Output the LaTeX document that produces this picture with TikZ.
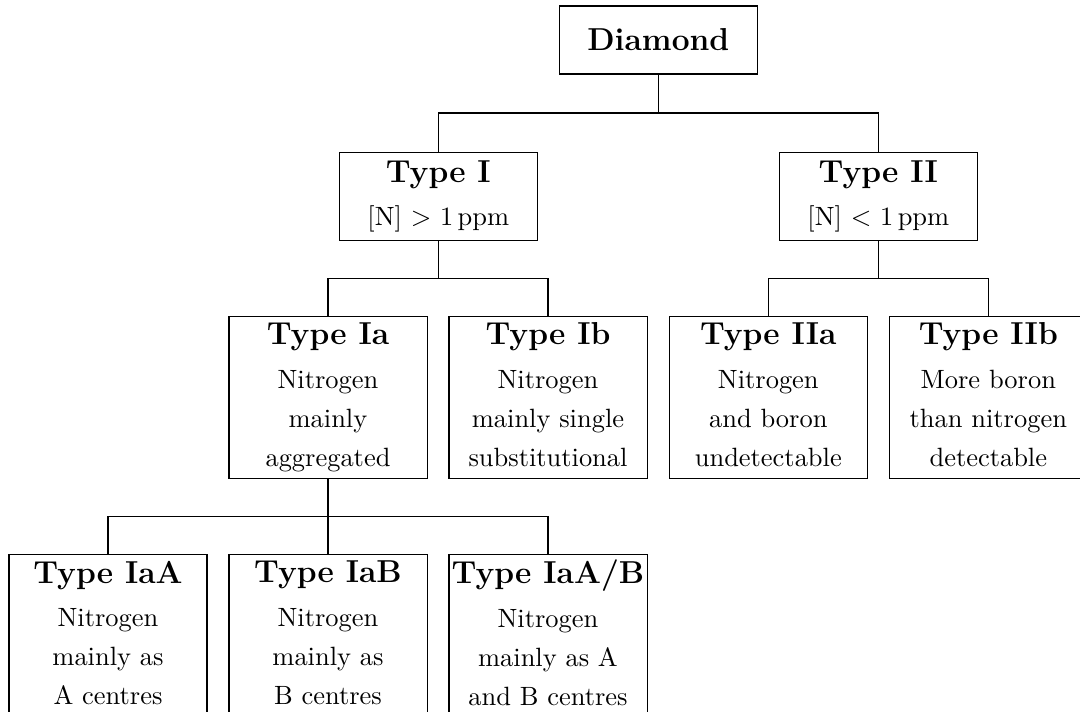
\documentclass[tikz,border=0pt]{standalone}
\begin{document}
\begin{tikzpicture}[x=0.3782pt,y=-0.3782pt,
  box/.style={draw, line width=0.4pt, align=center, inner sep=0pt,
    minimum width=74.9pt, font=\fontsize{10}{14.75}\selectfont},
  top/.style={box, minimum height=25.7pt},
  mid/.style={box, minimum height=33.4pt},
  leaf/.style={box, minimum height=61.6pt},
  edge/.style={line width=0.4pt}]
\useasboundingbox (0,0) rectangle (1080,711);
\clip (0,0) rectangle (1080,711);
\node[top] (dia) at (658.3,40) {\large\bfseries Diamond};
\node[mid] (t1) at (438.3,196.5) {{\large\bfseries Type I}\\[1.2pt] [N] $>$ 1\,ppm};
\node[mid] (t2) at (878.3,196.5) {{\large\bfseries Type II}\\[1.2pt] [N] $<$ 1\,ppm};
\node[leaf] (ia) at (328,397.5) {{\large\bfseries Type Ia}\\[1.8pt] Nitrogen\\ mainly\\ aggregated};
\node[leaf] (ib) at (548,397.5) {{\large\bfseries Type Ib}\\[1.8pt] Nitrogen\\ mainly single\\ substitutional\vphantom{g}};
\node[leaf] (iia) at (768.3,397.5) {{\large\bfseries Type IIa}\\[1.8pt] Nitrogen\\ and boron\\ undetectable\vphantom{g}};
\node[leaf] (iib) at (988.3,397.5) {{\large\bfseries Type IIb}\\[1.8pt] More boron\\ than nitrogen\\ detectable\vphantom{g}};
\node[leaf] (iaa) at (108,635.5) {{\large\bfseries Type IaA}\\[1.8pt] Nitrogen\\ mainly as\\ A centres\vphantom{g}};
\node[leaf] (iab) at (328,635.5) {{\large\bfseries Type IaB}\\[1.8pt] Nitrogen\\ mainly as\\ B centres\vphantom{g}};
\node[leaf] (iaab) at (548,635.5) {{\large\bfseries Type IaA/B}\\[1.8pt] Nitrogen\\ mainly as A\\ and B centres\vphantom{g}};
\coordinate (b1) at (658.3,113);
\coordinate (b2) at (438.3,278.5);
\coordinate (b3) at (878.3,278.5);
\coordinate (b4) at (328,516.5);
\draw[edge] (dia.south) -- (b1);
\draw[edge] (t1.north) |- (b1) -| (t2.north);
\draw[edge] (t1.south) -- (b2);
\draw[edge] (ia.north) |- (b2) -| (ib.north);
\draw[edge] (t2.south) -- (b3);
\draw[edge] (iia.north) |- (b3) -| (iib.north);
\draw[edge] (ia.south) -- (b4);
\draw[edge] (iaa.north) |- (b4) -| (iaab.north);
\draw[edge] (iab.north) -- (b4);
\end{tikzpicture}
\end{document}
